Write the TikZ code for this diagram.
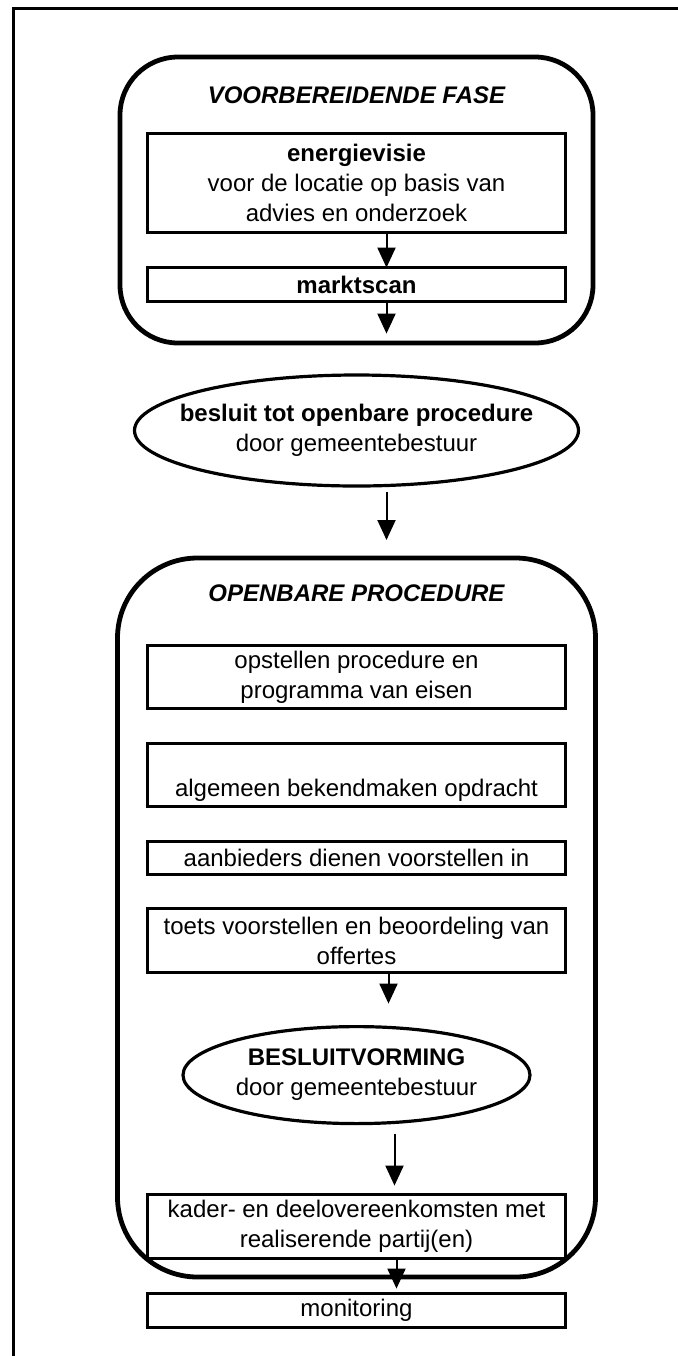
\documentclass[tikz,border=0pt]{standalone}
\usepackage{fontspec}
\setmainfont{Liberation Sans}
\usetikzlibrary{arrows.meta,positioning,shapes.geometric}

\begin{document}
\begin{tikzpicture}[>={Triangle[length=10pt,width=9pt]},
    font=\fontsize{12}{15}\selectfont,
    stap/.style={draw,fill=white,line width=1.5pt,minimum width=209pt,align=center,inner sep=0pt,outer sep=0pt},
    fase/.style={draw,line width=2.4pt,rounded corners=#1,inner sep=0pt,outer sep=0pt},
    besluit/.style={draw,ellipse,line width=1.6pt,align=center,inner xsep=-30pt,inner ysep=0pt,outer sep=0pt},
    titel/.style={font=\fontsize{12}{15}\selectfont\bfseries\itshape,inner sep=0pt},
    pijl/.style={->,line width=1pt}]
    \useasboundingbox (0,0) rectangle (339pt,-678pt);
    % kader rond de figuur
    \draw[line width=1.5pt] (6.5pt,-678pt) -- (6.5pt,-4pt) -- (339pt,-4pt);
    % Voorbereidende fase
    \node[fase=29pt,minimum width=236.5pt,minimum height=143pt] (vf) at (178.25pt,-100pt) {};
    \node[titel,below=14.7pt of vf.north] (vft) {VOORBEREIDENDE FASE};
    \node[stap,minimum height=49.5pt,below=14.7pt of vft] (ev) {\textbf{energievisie}\\voor de locatie op basis van\\advies en onderzoek};
    \node[stap,minimum height=17pt,below=17.5pt of ev] (ms) {\textbf{marktscan}};
    \coordinate (e1) at ([xshift=15pt,yshift=-16pt]ms.south);
    \draw[pijl] ([xshift=15pt]ev.south) -- ([xshift=15pt]ms.north);
    \draw[pijl] ([xshift=15pt]ms.south) -- (e1);
    % besluit gemeente
    \node[besluit,minimum width=222pt,minimum height=55.5pt,below=16pt of vf] (bs) {\textbf{besluit tot openbare procedure}\\door gemeentebestuur};
    % Openbare procedure
    \node[fase=40pt,minimum width=239pt,minimum height=359.5pt,below=36pt of bs] (op) {};
    \draw[pijl] ([xshift=15pt,yshift=-3pt]bs.south) -- ([xshift=15pt,yshift=9pt]op.north);
    \node[titel,below=13.2pt of op.north] (opt) {OPENBARE PROCEDURE};
    \node[stap,minimum height=31.5pt,below=21.7pt of opt] (os) {opstellen procedure en\\programma van eisen};
    \node[stap,minimum height=31.5pt,below=17.5pt of os] (ab) {\vphantom{l}\\algemeen bekendmaken opdracht};
    \node[stap,minimum height=16.5pt,below=17.5pt of ab] (ad) {aanbieders dienen voorstellen in};
    \node[stap,minimum height=32pt,below=17pt of ad] (tv) {toets voorstellen en beoordeling van\\offertes};
    \node[besluit,minimum width=173.5pt,minimum height=48.5pt,below=27pt of tv] (bv) {\textbf{BESLUITVORMING}\\door gemeentebestuur};
    \node[stap,minimum height=32pt,below=35.5pt of bv] (kd) {kader- en deelovereenkomsten met\\realiserende partij(en)};
    \node[stap,minimum height=17pt,below=17.5pt of kd] (mo) {monitoring};
    \draw[pijl] ([xshift=16pt]tv.south) -- ([xshift=16pt,yshift=11.5pt]bv.north);
    \draw[pijl] ([xshift=19pt,yshift=-5pt]bv.south) -- ([xshift=19pt,yshift=4.5pt]kd.north);
    \draw[pijl] ([xshift=20pt]kd.south) -- ([xshift=20pt,yshift=2.5pt]mo.north);
\end{tikzpicture}
\end{document}
